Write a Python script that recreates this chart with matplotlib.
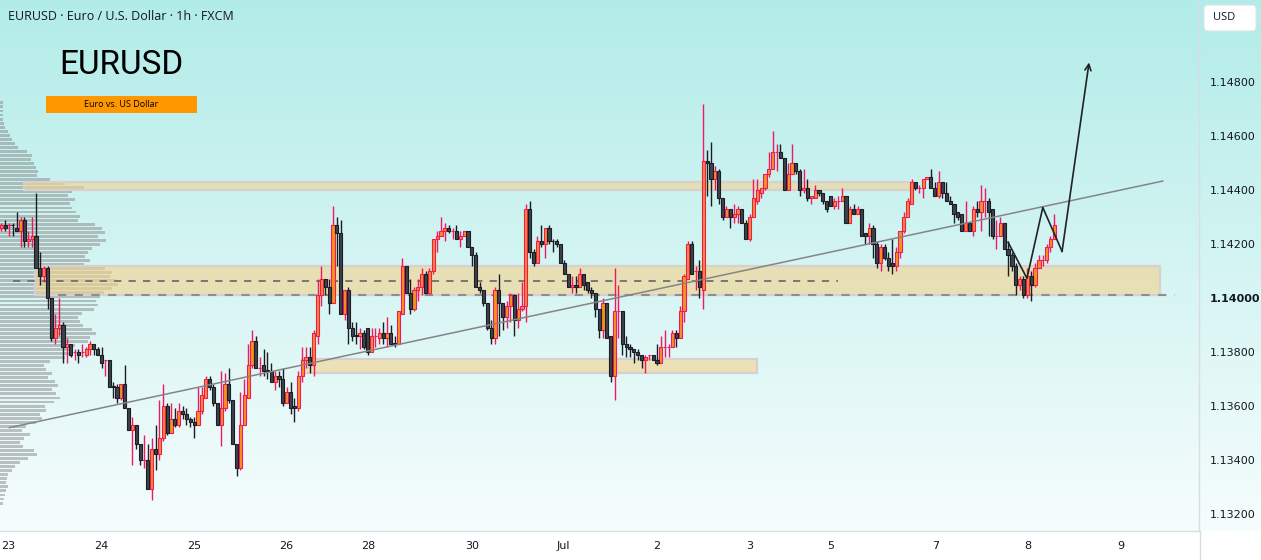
import matplotlib
matplotlib.use("Agg")
import matplotlib.pyplot as plt
import numpy as np
from matplotlib.patches import Rectangle, FancyBboxPatch
from matplotlib.lines import Line2D
from matplotlib.transforms import IdentityTransform

W, H = 1261, 560

# EURUSD hourly candles, oldest first (10 per row)
opens = [
    1.1426, 1.1427, 1.1427, 1.14272, 1.1426, 1.1425, 1.1429, 1.1421, 1.1422, 1.1423,
    1.1411, 1.1408, 1.1411, 1.1400, 1.1385, 1.1389, 1.1390, 1.1382, 1.1383, 1.1380,
    1.1380, 1.1380, 1.1379, 1.1381, 1.1383, 1.1381, 1.1379, 1.1377, 1.1377, 1.13672,
    1.1367, 1.1363, 1.1368, 1.1359, 1.1351, 1.1353, 1.1346, 1.1340, 1.1340, 1.1329,
    1.1344, 1.1342, 1.1348, 1.1360, 1.1350, 1.1355, 1.1353, 1.1358, 1.1357, 1.1355,
    1.1354, 1.1353, 1.1358, 1.1363, 1.1370, 1.1367, 1.1361, 1.1353, 1.1359, 1.1368,
    1.1362, 1.1346, 1.1337, 1.1353, 1.1363, 1.1375, 1.1384, 1.1374, 1.1375, 1.13732,
    1.1373, 1.1369, 1.1371, 1.1370, 1.1361, 1.1365, 1.1360, 1.1359, 1.1371, 1.1377,
    1.1378, 1.1375, 1.1386, 1.1401, 1.1407, 1.1404, 1.1398, 1.1427, 1.1424, 1.1394,
    1.1403, 1.1389, 1.13862, 1.1386, 1.1387, 1.1389, 1.1380, 1.1386, 1.1385, 1.1387,
    1.1385, 1.1387, 1.13832, 1.1383, 1.1394, 1.1412, 1.1402, 1.1396, 1.1403, 1.1404,
    1.1409, 1.1402, 1.1410, 1.1422, 1.1423, 1.1425, 1.1426, 1.1425, 1.1425, 1.1422,
    1.1423, 1.1425, 1.1419, 1.1416, 1.1404, 1.1403, 1.1398, 1.1389, 1.1385, 1.1403,
    1.1398, 1.1393, 1.1397, 1.1401, 1.1392, 1.1396, 1.1397, 1.1433, 1.1417, 1.1413,
    1.1421, 1.1420, 1.1426, 1.14212, 1.1421, 1.1420, 1.1413, 1.1409, 1.1404, 1.1405,
    1.1404, 1.1409, 1.1406, 1.1403, 1.1402, 1.1396, 1.1388, 1.1398, 1.1386, 1.1371,
    1.1395, 1.1395, 1.1383, 1.1382, 1.1381, 1.1380, 1.1379, 1.1377, 1.1379, 1.1379,
    1.1377, 1.1376, 1.1382, 1.1382, 1.1382, 1.1387, 1.1385, 1.1395, 1.1407, 1.1420,
    1.1410, 1.1410, 1.1403, 1.1451, 1.1450, 1.1444, 1.1447, 1.1437, 1.1430, 1.1433,
    1.1430, 1.1431, 1.1433, 1.1428, 1.1422, 1.1430, 1.1436, 1.1439, 1.1441, 1.1446,
    1.1448, 1.1454, 1.1454, 1.1452, 1.1440, 1.1446, 1.1450, 1.1447, 1.1440, 1.1441,
    1.1437, 1.1437, 1.1440, 1.1439, 1.1436, 1.1438, 1.1434, 1.1436, 1.1436, 1.1438,
    1.1428, 1.1433, 1.1431, 1.1433, 1.1424, 1.1423, 1.1426, 1.1420, 1.1413, 1.1419,
    1.1415, 1.1413, 1.1412, 1.1417, 1.1425, 1.1430, 1.1435, 1.1443, 1.1441, 1.1441,
    1.1444, 1.1445, 1.1441, 1.1438, 1.1443, 1.1439, 1.1436, 1.1435, 1.1432, 1.1431,
    1.1425, 1.1428, 1.1425, 1.1433, 1.1432, 1.1436, 1.1436, 1.1433, 1.1423, 1.1423,
    1.1428, 1.1418, 1.1416, 1.1412, 1.1405, 1.1407, 1.1401, 1.1408, 1.1405, 1.1411,
    1.1414, 1.1414, 1.1419, 1.1422,
]
highs = [
    1.1428, 1.1429, 1.1428, 1.1428, 1.1432, 1.1430, 1.1430, 1.1425, 1.1430, 1.1439,
    1.1417, 1.1412, 1.1412, 1.1400, 1.1394, 1.1400, 1.1391, 1.1385, 1.1383, 1.1381,
    1.1381, 1.1383, 1.1382, 1.1384, 1.1383, 1.1382, 1.1382, 1.1377, 1.1377, 1.1369,
    1.1368, 1.1368, 1.1375, 1.1359, 1.1356, 1.1353, 1.1346, 1.1349, 1.1346, 1.1348,
    1.1353, 1.1362, 1.1368, 1.1361, 1.1361, 1.1359, 1.1361, 1.1360, 1.1359, 1.1356,
    1.1356, 1.1367, 1.1367, 1.1371, 1.1371, 1.1368, 1.1361, 1.1373, 1.1372, 1.1374,
    1.1362, 1.1346, 1.1365, 1.1370, 1.1383, 1.1388, 1.1386, 1.1378, 1.1381, 1.1380,
    1.1376, 1.1373, 1.1373, 1.1374, 1.1367, 1.1369, 1.1363, 1.1373, 1.1382, 1.1382,
    1.1382, 1.1388, 1.1407, 1.1412, 1.1407, 1.1407, 1.1434, 1.1430, 1.1429, 1.1403,
    1.1404, 1.1391, 1.1391, 1.1389, 1.1388, 1.1389, 1.1389, 1.1389, 1.1389, 1.1391,
    1.1393, 1.1390, 1.1386, 1.1395, 1.1415, 1.1412, 1.1407, 1.1404, 1.1407, 1.1411,
    1.1410, 1.1411, 1.1422, 1.1425, 1.1430, 1.1428, 1.1427, 1.1426, 1.1427, 1.1425,
    1.1425, 1.1425, 1.1419, 1.1417, 1.1406, 1.1403, 1.1398, 1.1392, 1.1404, 1.1409,
    1.1398, 1.1399, 1.1402, 1.1401, 1.1402, 1.1406, 1.1435, 1.1436, 1.1418, 1.1423,
    1.1427, 1.1426, 1.1427, 1.1422, 1.1422, 1.1420, 1.1414, 1.1409, 1.1408, 1.1408,
    1.1411, 1.1409, 1.1406, 1.1404, 1.1402, 1.1396, 1.1400, 1.1398, 1.1386, 1.1411,
    1.1405, 1.1395, 1.1386, 1.1383, 1.1381, 1.1381, 1.1379, 1.1379, 1.1379, 1.1379,
    1.1383, 1.1386, 1.1388, 1.1383, 1.1388, 1.1388, 1.1397, 1.1409, 1.1421, 1.1421,
    1.1412, 1.1414, 1.1472, 1.1455, 1.1458, 1.1449, 1.1448, 1.1437, 1.1434, 1.1433,
    1.1435, 1.1434, 1.1433, 1.1429, 1.1431, 1.1444, 1.1444, 1.1441, 1.1446, 1.1454,
    1.1462, 1.1457, 1.1457, 1.1452, 1.1450, 1.1457, 1.1450, 1.1448, 1.1448, 1.1444,
    1.1438, 1.1442, 1.1440, 1.1439, 1.1436, 1.1438, 1.1437, 1.1438, 1.1441, 1.1438,
    1.1434, 1.1435, 1.1434, 1.1433, 1.1424, 1.1428, 1.1427, 1.1421, 1.1420, 1.1420,
    1.1417, 1.1422, 1.1419, 1.1425, 1.1432, 1.1437, 1.1444, 1.1443, 1.1442, 1.1444,
    1.1445, 1.1448, 1.1443, 1.1447, 1.1443, 1.1443, 1.1438, 1.1435, 1.1432, 1.1431,
    1.1436, 1.1428, 1.1434, 1.1436, 1.1442, 1.1441, 1.1437, 1.1433, 1.1429, 1.1430,
    1.1428, 1.1421, 1.1417, 1.1413, 1.1408, 1.1408, 1.1411, 1.1410, 1.1413, 1.1416,
    1.1416, 1.1420, 1.1423, 1.1431,
]
lows = [
    1.1425, 1.1425, 1.1423, 1.1423, 1.1425, 1.1419, 1.1419, 1.1419, 1.1419, 1.1411,
    1.1405, 1.1406, 1.1396, 1.1384, 1.1383, 1.1386, 1.1376, 1.1376, 1.1378, 1.1377,
    1.1376, 1.1378, 1.1378, 1.1379, 1.1379, 1.1379, 1.1374, 1.1371, 1.1367, 1.1363,
    1.1361, 1.1362, 1.1359, 1.1351, 1.1338, 1.1344, 1.1338, 1.1337, 1.1329, 1.1325,
    1.1336, 1.1340, 1.1347, 1.1349, 1.1350, 1.1352, 1.1352, 1.1355, 1.1353, 1.1352,
    1.1348, 1.1353, 1.1357, 1.1363, 1.1366, 1.1360, 1.1353, 1.1345, 1.1358, 1.1361,
    1.1346, 1.1334, 1.1336, 1.1353, 1.1363, 1.1374, 1.1374, 1.1371, 1.1371, 1.1370,
    1.1369, 1.1366, 1.1367, 1.1360, 1.1361, 1.1357, 1.1354, 1.1358, 1.1369, 1.1374,
    1.1372, 1.1371, 1.1383, 1.1397, 1.1401, 1.1394, 1.1398, 1.1412, 1.1394, 1.1392,
    1.1383, 1.1384, 1.1383, 1.1381, 1.1381, 1.1379, 1.1380, 1.1382, 1.1383, 1.1383,
    1.1382, 1.1383, 1.1382, 1.1383, 1.1394, 1.1402, 1.1394, 1.1395, 1.1399, 1.1401,
    1.1402, 1.1402, 1.1409, 1.1417, 1.1423, 1.1421, 1.1424, 1.1422, 1.1422, 1.1419,
    1.1423, 1.1419, 1.1412, 1.1404, 1.1402, 1.1397, 1.1388, 1.1383, 1.1383, 1.1386,
    1.1388, 1.1389, 1.1391, 1.1386, 1.1389, 1.1395, 1.1391, 1.1415, 1.1412, 1.1413,
    1.1419, 1.1415, 1.1420, 1.1417, 1.1419, 1.1413, 1.1409, 1.1404, 1.1402, 1.1402,
    1.1404, 1.1403, 1.1402, 1.1400, 1.1393, 1.1385, 1.1385, 1.1385, 1.1369, 1.1362,
    1.1385, 1.1379, 1.1378, 1.1378, 1.1376, 1.1377, 1.1374, 1.1372, 1.1377, 1.1377,
    1.1375, 1.1376, 1.1378, 1.1378, 1.1382, 1.1382, 1.1385, 1.1391, 1.1407, 1.1409,
    1.1403, 1.1400, 1.1396, 1.1438, 1.1434, 1.1440, 1.1435, 1.1429, 1.1430, 1.1426,
    1.1428, 1.1428, 1.1428, 1.1422, 1.1421, 1.1430, 1.1435, 1.1437, 1.1440, 1.1445,
    1.1448, 1.1447, 1.1452, 1.1440, 1.1440, 1.1446, 1.1446, 1.1438, 1.1439, 1.1436,
    1.1435, 1.1437, 1.1438, 1.1435, 1.1432, 1.1434, 1.1433, 1.1433, 1.1436, 1.1428,
    1.1428, 1.1431, 1.1431, 1.1423, 1.1420, 1.1420, 1.1415, 1.1411, 1.1410, 1.1414,
    1.1410, 1.1409, 1.1410, 1.1415, 1.1424, 1.1430, 1.1435, 1.1440, 1.1439, 1.1437,
    1.1444, 1.1441, 1.1438, 1.1437, 1.1437, 1.1436, 1.1435, 1.1428, 1.1429, 1.1425,
    1.1425, 1.1425, 1.1423, 1.1430, 1.1425, 1.1430, 1.1423, 1.1422, 1.1418, 1.1423,
    1.1418, 1.1408, 1.1410, 1.1401, 1.1403, 1.1400, 1.1400, 1.1399, 1.1404, 1.1411,
    1.1412, 1.1413, 1.1417, 1.1422,
]
closes = [
    1.1427, 1.1426, 1.1427, 1.1427, 1.1425, 1.1429, 1.1421, 1.1422, 1.1423, 1.1411,
    1.1408, 1.1411, 1.1400, 1.1385, 1.1389, 1.1390, 1.1382, 1.1383, 1.1379, 1.1380,
    1.1379, 1.1380, 1.1381, 1.1383, 1.1381, 1.1379, 1.1376, 1.1377, 1.1367, 1.1367,
    1.1363, 1.1368, 1.1359, 1.1351, 1.1353, 1.1346, 1.1340, 1.1340, 1.1329, 1.1344,
    1.1342, 1.1348, 1.1360, 1.1350, 1.1355, 1.1353, 1.1358, 1.1357, 1.1355, 1.1354,
    1.1353, 1.1358, 1.1364, 1.1370, 1.1367, 1.1361, 1.1353, 1.1359, 1.1368, 1.1362,
    1.1346, 1.1337, 1.1353, 1.1364, 1.1375, 1.1384, 1.1374, 1.1374, 1.1373, 1.1373,
    1.1369, 1.1371, 1.1370, 1.1361, 1.1365, 1.1359, 1.1359, 1.1371, 1.1377, 1.1378,
    1.1375, 1.1387, 1.1401, 1.1407, 1.1404, 1.1398, 1.1427, 1.1424, 1.1394, 1.1403,
    1.1389, 1.1386, 1.1386, 1.1387, 1.1382, 1.1380, 1.1386, 1.1386, 1.1387, 1.1385,
    1.1387, 1.1383, 1.1383, 1.1395, 1.1412, 1.1402, 1.1396, 1.1403, 1.1404, 1.1409,
    1.1402, 1.1410, 1.1422, 1.1423, 1.1425, 1.1426, 1.1425, 1.1425, 1.1422, 1.1423,
    1.1425, 1.1419, 1.1416, 1.1404, 1.1403, 1.1398, 1.1389, 1.1385, 1.1403, 1.1398,
    1.1393, 1.1397, 1.1401, 1.1392, 1.1396, 1.1397, 1.1433, 1.1417, 1.1413, 1.1421,
    1.1420, 1.1426, 1.1421, 1.1421, 1.1420, 1.1413, 1.1409, 1.1404, 1.1405, 1.1404,
    1.1409, 1.1405, 1.1403, 1.1402, 1.1396, 1.1388, 1.1398, 1.1385, 1.1371, 1.1395,
    1.1395, 1.1383, 1.1382, 1.1381, 1.1380, 1.1379, 1.1377, 1.1378, 1.1379, 1.1377,
    1.1376, 1.1382, 1.1382, 1.1382, 1.1387, 1.1385, 1.1395, 1.1408, 1.1420, 1.1409,
    1.1410, 1.1404, 1.1451, 1.1450, 1.1444, 1.1447, 1.1437, 1.1430, 1.1433, 1.1430,
    1.1431, 1.1433, 1.1428, 1.1422, 1.1430, 1.1437, 1.1440, 1.1441, 1.1446, 1.1448,
    1.1454, 1.1454, 1.1452, 1.1440, 1.1446, 1.1450, 1.1447, 1.1440, 1.1441, 1.1437,
    1.1438, 1.1440, 1.1439, 1.1436, 1.1433, 1.1434, 1.1436, 1.1436, 1.1438, 1.1428,
    1.1433, 1.1431, 1.1433, 1.1423, 1.1423, 1.1426, 1.1420, 1.1413, 1.1419, 1.1415,
    1.1412, 1.1412, 1.1417, 1.1425, 1.1430, 1.1436, 1.1443, 1.1441, 1.1441, 1.1444,
    1.1445, 1.1441, 1.1438, 1.1443, 1.1439, 1.1436, 1.1435, 1.1431, 1.1430, 1.1425,
    1.1428, 1.1425, 1.1433, 1.1432, 1.1436, 1.1436, 1.1432, 1.1423, 1.1423, 1.1428,
    1.1418, 1.1416, 1.1412, 1.1405, 1.1407, 1.1401, 1.1408, 1.1405, 1.1411, 1.1414,
    1.1414, 1.1419, 1.1422, 1.1427,
]

# time axis: day labels and the bar they sit under
day_labels = ["23", "24", "25", "26", "28", "30", "Jul", "2", "3", "5", "7", "8", "9"]
day_bars = [1.7, 25.9, 50.0, 73.8, 95.1, 122.0, 145.6, 170.0, 194.1, 214.9, 242.1, 266.2, 290.3]

price_ticks = [1.132, 1.134, 1.136, 1.138, 1.140, 1.142, 1.144, 1.146, 1.148]

# session volume profile on the left, one value per price row, top row first
profile_top = 1.14724
profile_step = 0.00015
profile_vol = [
    3, 3, 3, 3, 3, 4, 5, 8, 10, 12,
    15, 18, 27, 32, 31, 34, 36, 38, 37, 50,
    65, 84, 72, 68, 75, 70, 72, 76, 80, 78,
    95, 102, 105, 98, 106, 100, 92, 88, 85, 90,
    84, 105, 112, 110, 116, 118, 112, 104, 100, 96,
    98, 94, 82, 78, 80, 83, 92, 96, 90, 88,
    75, 70, 72, 65, 50, 44, 46, 52, 48, 55,
    58, 52, 56, 60, 54, 45, 46, 40, 42, 36,
    26, 22, 30, 24, 20, 23, 34, 37, 28, 20,
    15, 12, 8, 7, 6, 8, 6, 5, 4, 3,
]

# supply / demand zones
zone_start = [5.9, 8.7, 78.0]
zone_end = [236.1, 300.4, 195.9]
zone_low = [1.1440, 1.1401, 1.1372]
zone_high = [1.1443, 1.1412, 1.13775]

# dashed levels
level_price = [1.14062, 1.14010]
level_start = [3.0, 14.7]
level_end = [216.9, 304.3]

# rising trend line
trend_bars = [2.1, 301.1]
trend_prices = [1.13519, 1.14434]

# projected path with arrow
path_bars = [261.0, 265.9, 270.0, 275.0, 282.0]
path_prices = [1.14207, 1.14073, 1.14336, 1.14173, 1.14874]

UP_FILL, UP_EDGE = "#f7921c", "#f0185e"
DN_FILL, DN_EDGE = "#3e414c", "#1b1d24"
TXT = "#131722"

fig = plt.figure(figsize=(W / 100, H / 100), dpi=100)
fig.patch.set_facecolor("white")

plot_bottom = 29 / H
plot_h = 531 / H

# background gradient (chart + price scale)
bg = fig.add_axes([0, plot_bottom, 1, plot_h])
bg.set_zorder(-5)
top_c = np.array([178, 236, 232]) / 255
bot_c = np.array([246, 253, 253]) / 255
t = np.linspace(0, 1, 256)[:, None]
grad = (top_c * (1 - t) + bot_c * t)[:, None, :]
bg.imshow(grad, aspect="auto", extent=[0, 1, 0, 1])
bg.axis("off")

ax = fig.add_axes([0, plot_bottom, 1199 / W, plot_h])
ax.set_facecolor("none")
ax.set_xlim(-0.337, 310.5)
ax.set_ylim(1.131354, 1.151058)

o = np.array(opens)
h = np.array(highs)
l = np.array(lows)
c = np.array(closes)
x = np.arange(len(c))
up = c >= o

# volume profile
levels = profile_top - profile_step * np.arange(len(profile_vol))
vol = np.array(profile_vol, dtype=float)
vol_w = vol / vol.max() * (118 / 3.857)
ax.barh(levels, vol_w, height=profile_step * 0.72, left=-0.337,
        color="#888888", alpha=0.5, linewidth=0, zorder=1)

# zones
for s, e, lo, hi in zip(zone_start, zone_end, zone_low, zone_high):
    ax.add_patch(Rectangle((s, lo), e - s, hi - lo, facecolor="#f5d28c", alpha=0.6,
                           edgecolor="none", zorder=2))
    ax.add_patch(Rectangle((s, lo), e - s, hi - lo, facecolor="none",
                           edgecolor="#d6d0d0", linewidth=1.6, zorder=2))

# dashed levels
ax.hlines(level_price[0], level_start[0], level_end[0], colors="#6f6f6f",
          linestyles=(0, (4, 4)), linewidth=1.3, zorder=3)
ax.hlines(level_price[1], level_start[1], level_end[1], colors="#8e8e8e",
          linestyles=(0, (4, 4)), linewidth=1.5, zorder=3)

# candles
ax.vlines(x[up], l[up], h[up], colors=UP_EDGE, linewidth=1.0, zorder=4)
ax.vlines(x[~up], l[~up], h[~up], colors=DN_EDGE, linewidth=1.0, zorder=4)
bw = 0.82
ax.bar(x[up], c[up] - o[up], bottom=o[up], width=bw, color=UP_FILL,
       edgecolor=UP_EDGE, linewidth=0.8, zorder=5)
ax.bar(x[~up], o[~up] - c[~up], bottom=c[~up], width=bw, color=DN_FILL,
       edgecolor=DN_EDGE, linewidth=0.8, zorder=5)

# trend line
ax.plot(trend_bars, trend_prices, color="#858585", linewidth=1.1, zorder=6)

# projection
ax.plot(path_bars[:-1], path_prices[:-1], color="#222222", linewidth=1.2, zorder=7)
ax.annotate("", xy=(path_bars[-1], path_prices[-1]), xytext=(path_bars[-2], path_prices[-2]),
            arrowprops=dict(arrowstyle="->", color="#222222", lw=1.2,
                            shrinkA=0, shrinkB=0, mutation_scale=11), zorder=7)

# axes styling
for side in ["top", "left"]:
    ax.spines[side].set_visible(False)
for side in ["right", "bottom"]:
    ax.spines[side].set_color("#d9dce3")
    ax.spines[side].set_linewidth(1)
ax.yaxis.tick_right()
ax.set_yticks(price_ticks)
ax.set_yticklabels([f"{p:.5f}" for p in price_ticks])
ax.tick_params(axis="y", length=0, pad=8, labelsize=8, labelcolor=TXT)
for lab in ax.get_yticklabels():
    if lab.get_text() == "1.14000":
        lab.set_fontweight("bold")
ax.set_xticks(day_bars)
ax.set_xticklabels(day_labels)
ax.tick_params(axis="x", length=0, pad=7, labelsize=8, labelcolor=TXT)

fig.add_artist(Line2D([1199.5 / W, 1199.5 / W], [0, plot_bottom], transform=fig.transFigure,
                      color="#d9dce3", linewidth=1))

# header texts
fig.text(8 / W, 1 - 17 / H, "EURUSD · Euro / U.S. Dollar · 1h · FXCM",
         fontsize=9, family="Open Sans", color=TXT, va="center", ha="left")
fig.text(59 / W, 1 - 65 / H, "EURUSD", fontsize=24, family="Roboto", color="black",
         va="center", ha="left")
fig.add_artist(Rectangle((46, H - 113), 151, 17, transform=IdentityTransform(),
                         facecolor="#ff9800", edgecolor="none"))
fig.text(121.5 / W, 1 - 104.5 / H, "Euro vs. US Dollar", fontsize=6.5, family="Open Sans",
         color="black", va="center", ha="center")

# currency box
fig.add_artist(FancyBboxPatch((1204, H - 31), 52, 26, transform=IdentityTransform(),
                              boxstyle="round,pad=0,rounding_size=4",
                              facecolor="white", edgecolor="#e0e3eb", linewidth=0.8))
fig.text(1213 / W, 1 - 18 / H, "USD", fontsize=8, family="Open Sans", color=TXT,
         va="center", ha="left")

fig.savefig("out.png", dpi=100)
